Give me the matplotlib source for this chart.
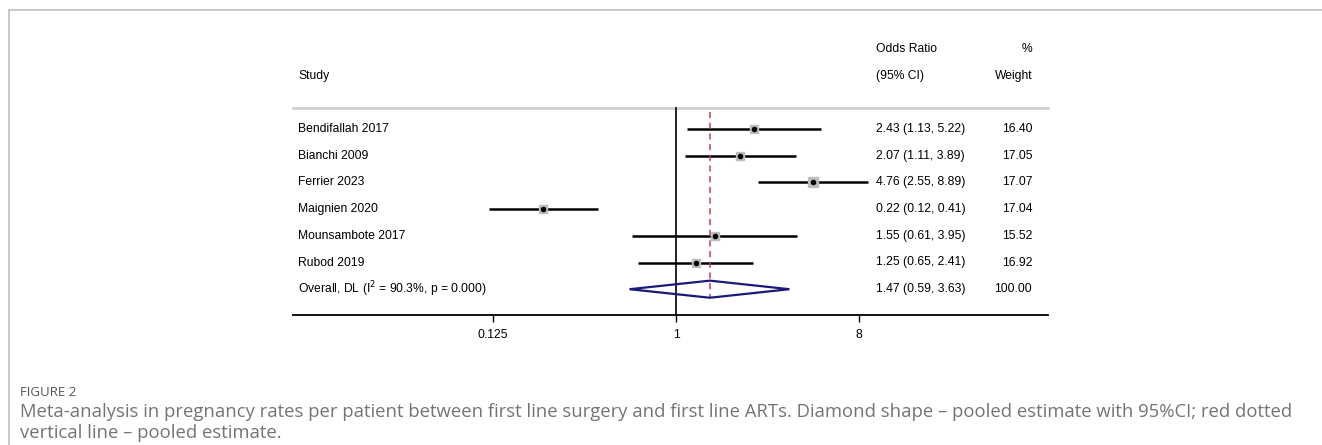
import numpy as np
import matplotlib.pyplot as plt
from matplotlib.lines import Line2D
from matplotlib.patches import Polygon
from matplotlib.transforms import blended_transform_factory

# study data (odds ratio, 95% CI, weight)
studies = ["Bendifallah 2017", "Bianchi 2009", "Ferrier 2023", "Maignien 2020",
           "Mounsambote 2017", "Rubod 2019"]
odds = [2.43, 2.07, 4.76, 0.22, 1.55, 1.25]
ci_low = [1.13, 1.11, 2.55, 0.12, 0.61, 0.65]
ci_high = [5.22, 3.89, 8.89, 0.41, 3.95, 2.41]
weights = [16.40, 17.05, 17.07, 17.04, 15.52, 16.92]

overall_label = "Overall, DL (I$^{2}$ = 90.3%, p = 0.000)"
overall_or, overall_lo, overall_hi = 1.47, 0.59, 3.63
overall_weight = 100.00

xticks = [0.125, 1, 8]
xticklabels = ["0.125", "1", "8"]

plt.rcParams['font.family'] = ['Liberation Sans', 'DejaVu Sans']

W, H = 1322, 445
fig = plt.figure(figsize=(W / 100, H / 100), dpi=100)

# forest plot axes (pixel layout of the reference)
left, right, top, bottom = 293, 1048, 30, 315
ax = fig.add_axes([left / W, 1 - bottom / H, (right - left) / W, (bottom - top) / H])
row_h = 26.7
ax.set_xscale('log', base=2)
ax.set_xlim(2 ** -6.28, 2 ** 6.10)
ax.set_ylim((bottom - 129) / row_h, (top - 129) / row_h)

for s in ['top', 'left', 'right']:
    ax.spines[s].set_visible(False)
ax.spines['bottom'].set_linewidth(1.3)
ax.set_yticks([])
ax.set_xticks(xticks)
ax.set_xticklabels(xticklabels, fontsize=8.7)
ax.xaxis.set_minor_locator(plt.NullLocator())
ax.tick_params(axis='x', direction='out', length=5, width=1, pad=5)

tr = blended_transform_factory(ax.transAxes, ax.transData)
n = len(studies)
fs = 8.7

# header
ax.text(0.772, -3.0, "Odds Ratio", transform=tr, fontsize=fs, va='center')
ax.text(0.979, -3.0, "%", transform=tr, fontsize=fs, va='center', ha='right')
ax.text(0.0066, -2.0, "Study", transform=tr, fontsize=fs, va='center')
ax.text(0.772, -2.0, "(95% CI)", transform=tr, fontsize=fs, va='center')
ax.text(0.979, -2.0, "Weight", transform=tr, fontsize=fs, va='center', ha='right')
ax.plot([0, 1], [-0.79, -0.79], transform=tr, color='#d0d0d0', lw=2, clip_on=False)

# null line
ax.plot([1, 1], [-0.79, ax.get_ylim()[0]], color='black', lw=1.2, clip_on=False)

for i in range(n):
    ax.plot([ci_low[i], ci_high[i]], [i, i], color='black', lw=1.8, solid_capstyle='butt')
    ax.plot(odds[i], i, marker='s', color='#bdbdbd', markersize=weights[i] * 0.38, zorder=3)
    ax.plot(odds[i], i, marker='o', color='black', markersize=3, zorder=4)
    ax.text(0.0066, i, studies[i], transform=tr, fontsize=fs, va='center')
    ax.text(0.772, i, "%.2f (%.2f, %.2f)" % (odds[i], ci_low[i], ci_high[i]),
            transform=tr, fontsize=fs, va='center')
    ax.text(0.979, i, "%.2f" % weights[i], transform=tr, fontsize=fs, va='center', ha='right')

# overall diamond
yo = n
dh = 0.32
diamond = Polygon([[overall_lo, yo], [overall_or, yo - dh], [overall_hi, yo], [overall_or, yo + dh]],
                  closed=True, fill=False, edgecolor='#1a1a7a', lw=1.6, zorder=3)
ax.add_patch(diamond)
ax.plot([overall_or, overall_or], [-0.65, yo + dh], color='#b5484f', lw=1.1,
        dashes=(4, 3), zorder=2)
ax.text(0.0066, yo, overall_label, transform=tr, fontsize=fs, va='center')
ax.text(0.772, yo, "%.2f (%.2f, %.2f)" % (overall_or, overall_lo, overall_hi),
        transform=tr, fontsize=fs, va='center')
ax.text(0.979, yo, "%.2f" % overall_weight, transform=tr, fontsize=fs, va='center', ha='right')

# panel frame
fig.add_artist(Line2D([9 / W, 1], [1 - 10 / H, 1 - 10 / H], color='#c4c4c4', lw=1.3))
fig.add_artist(Line2D([9 / W, 9 / W], [0, 1 - 10 / H], color='#c4c4c4', lw=1.3))

# caption
cap_font = ['Open Sans', 'DejaVu Sans']
fig.text(20 / W, 1 - 392 / H, "FIGURE 2", fontsize=9.5, color='#555555', va='center',
         family=cap_font)
fig.text(20 / W, 1 - 412 / H,
         "Meta-analysis in pregnancy rates per patient between first line surgery and first line ARTs. "
         "Diamond shape \u2013 pooled estimate with 95%CI; red dotted",
         fontsize=13.3, color='#747474', va='center', family=cap_font)
fig.text(20 / W, 1 - 433 / H, "vertical line \u2013 pooled estimate.",
         fontsize=13.3, color='#747474', va='center', family=cap_font)

fig.savefig("out.png", dpi=100)
